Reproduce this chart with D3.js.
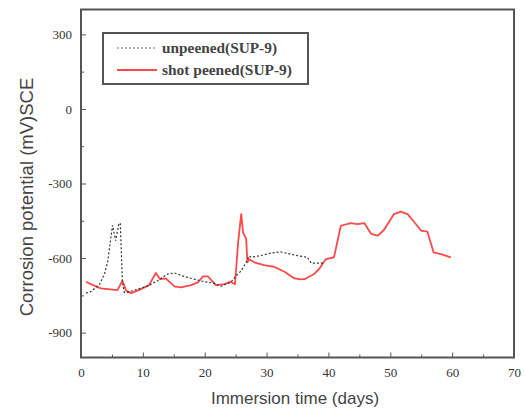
<!DOCTYPE html>
<html lang="en">
<head>
  <meta charset="UTF-8">
  <title>Corrosion potential</title>
  <script src="https://cdn.jsdelivr.net/npm/d3@7"></script>
  <style>
    body { margin: 0; background: #fff; }
    svg { display: block; }
  </style>
</head>
<body>
<script>
  // unpeened(SUP-9): [days, mV]
  const unpeenedDays = [0.8, 1.6, 3.0, 3.8, 4.3, 4.8, 5.1, 5.6, 6.1, 6.35, 6.7, 7.0, 7.5, 9.2, 10.8, 12.4, 14.0, 15.1, 16.7, 18.3, 19.9, 21.5, 22.6, 24.2, 25.1, 25.9, 26.7, 27.2, 27.5, 29.0, 30.7, 32.3, 34.5, 36.6, 37.2, 39.3];
  const unpeenedValues = [-741, -735, -705, -664, -617, -523, -468, -530, -465, -459, -697, -738, -738, -725, -712, -691, -664, -660, -674, -685, -695, -701, -714, -698, -671, -651, -617, -591, -597, -590, -580, -575, -588, -597, -620, -620];

  // shot peened(SUP-9)
  const peenedDays = [0.8, 1.6, 3.2, 5.9, 6.7, 7.3, 8.1, 9.7, 11.0, 12.1, 12.8, 13.7, 15.1, 16.2, 17.8, 18.9, 19.7, 20.5, 21.0, 21.8, 23.2, 24.2, 24.9, 25.4, 25.9, 26.2, 26.7, 26.9, 27.2, 28.0, 29.6, 31.2, 32.9, 34.5, 35.5, 36.1, 37.7, 38.5, 39.6, 40.9, 42.0, 43.6, 44.7, 45.8, 46.9, 48.0, 49.0, 50.6, 51.7, 52.8, 53.9, 55.0, 56.0, 57.0, 58.2, 59.8];
  const peenedValues = [-695, -705, -722, -729, -691, -731, -741, -725, -709, -660, -685, -682, -714, -718, -709, -698, -674, -674, -687, -709, -705, -695, -705, -537, -423, -497, -523, -617, -605, -617, -628, -635, -655, -682, -686, -685, -664, -644, -604, -597, -470, -459, -463, -459, -503, -510, -486, -423, -413, -423, -456, -490, -494, -577, -584, -597];

  const xTicks = [0, 10, 20, 30, 40, 50, 60, 70];
  const yTicks = [300, 0, -300, -600, -900];
  const legendLabels = ['unpeened(SUP-9)', 'shot peened(SUP-9)'];

  const width = 525;
  const height = 410;
  const margin = {top: 9.5, right: 11, bottom: 52.5, left: 81};

  const x = d3.scaleLinear()
    .domain([0, 70])
    .range([margin.left, width - margin.right]);

  const y = d3.scaleLinear()
    .domain([-1000, 400])
    .range([height - margin.bottom, margin.top]);

  const svg = d3.select('body').append('svg').attr('width', width).attr('height', height);

  const tickFont = "'Liberation Serif', serif";
  const axisColor = '#555';

  // minor ticks
  const xMinor = d3.range(5, 70, 10);
  const yMinor = [150, -150, -450, -750];

  svg.append('g')
    .attr('transform', `translate(0,${height - margin.bottom})`)
    .call(d3.axisBottom(x).tickValues(xMinor).tickSize(-3).tickSizeOuter(0).tickFormat(''))
    .call(g => g.select('.domain').remove())
    .call(g => g.selectAll('line').attr('stroke', axisColor));

  svg.append('g')
    .attr('transform', `translate(${margin.left},0)`)
    .call(d3.axisLeft(y).tickValues(yMinor).tickSize(-3).tickSizeOuter(0).tickFormat(''))
    .call(g => g.select('.domain').remove())
    .call(g => g.selectAll('line').attr('stroke', axisColor));

  // major ticks + labels
  svg.append('g')
    .attr('transform', `translate(0,${height - margin.bottom})`)
    .call(d3.axisBottom(x).tickValues(xTicks).tickSize(-5).tickSizeOuter(0).tickPadding(10))
    .call(g => g.select('.domain').remove())
    .call(g => g.selectAll('line').attr('stroke', axisColor))
    .call(g => g.selectAll('text').attr('font-family', tickFont).attr('font-size', 13).attr('fill', '#333'));

  svg.append('g')
    .attr('transform', `translate(${margin.left},0)`)
    .call(d3.axisLeft(y).tickValues(yTicks).tickSize(-5).tickSizeOuter(0).tickPadding(9)
      .tickFormat(d => String(d)))
    .call(g => g.select('.domain').remove())
    .call(g => g.selectAll('line').attr('stroke', axisColor))
    .call(g => g.selectAll('text').attr('font-family', tickFont).attr('font-size', 13).attr('fill', '#333'));

  // frame
  svg.append('rect')
    .attr('x', margin.left).attr('y', margin.top)
    .attr('width', width - margin.left - margin.right)
    .attr('height', height - margin.top - margin.bottom)
    .attr('fill', 'none')
    .attr('stroke', axisColor)
    .attr('stroke-width', 2);

  const line = d3.line()
    .x(d => x(d[0]))
    .y(d => y(d[1]));

  const unpeened = unpeenedDays.map((d, i) => [d, unpeenedValues[i]]);
  const peened = peenedDays.map((d, i) => [d, peenedValues[i]]);

  svg.append('path')
    .datum(peened)
    .attr('fill', 'none')
    .attr('stroke', '#ff4848')
    .attr('stroke-width', 1.8)
    .attr('stroke-linejoin', 'round')
    .attr('d', line);

  svg.append('path')
    .datum(unpeened)
    .attr('fill', 'none')
    .attr('stroke', '#333')
    .attr('stroke-width', 1.2)
    .attr('stroke-dasharray', '2,2')
    .attr('d', line);

  // legend
  const legend = svg.append('g').attr('transform', 'translate(103,33)');
  legend.append('rect')
    .attr('width', 205).attr('height', 51)
    .attr('fill', '#fff')
    .attr('stroke', axisColor)
    .attr('stroke-width', 2);

  const legendStyles = [
    {stroke: '#999', width: 1.5, dash: '2,2'},
    {stroke: '#ff4848', width: 2, dash: null}
  ];
  const legendWidths = [115, 130];
  legendLabels.forEach((label, i) => {
    const ly = 15 + i * 22;
    legend.append('line')
      .attr('x1', 14).attr('x2', 54)
      .attr('y1', ly).attr('y2', ly)
      .attr('stroke', legendStyles[i].stroke)
      .attr('stroke-width', legendStyles[i].width)
      .attr('stroke-dasharray', legendStyles[i].dash);
    legend.append('text')
      .attr('x', 59).attr('y', ly + 5)
      .attr('font-family', tickFont)
      .attr('font-size', 14)
      .attr('font-weight', 'bold')
      .attr('fill', '#444')
      .attr('textLength', legendWidths[i])
      .attr('lengthAdjust', 'spacingAndGlyphs')
      .text(label);
  });

  // axis titles
  svg.append('text')
    .attr('x', 295)
    .attr('y', 404)
    .attr('text-anchor', 'middle')
    .attr('font-family', "'Liberation Sans', Arial, sans-serif")
    .attr('font-size', 17)
    .attr('fill', '#444')
    .text('Immersion time (days)');

  svg.append('text')
    .attr('transform', `translate(33,197) rotate(-90)`)
    .attr('text-anchor', 'middle')
    .attr('font-family', "'Liberation Sans', Arial, sans-serif")
    .attr('font-size', 18.5)
    .attr('fill', '#444')
    .text('Corrosion potential (mV)SCE');
</script>
</body>
</html>
